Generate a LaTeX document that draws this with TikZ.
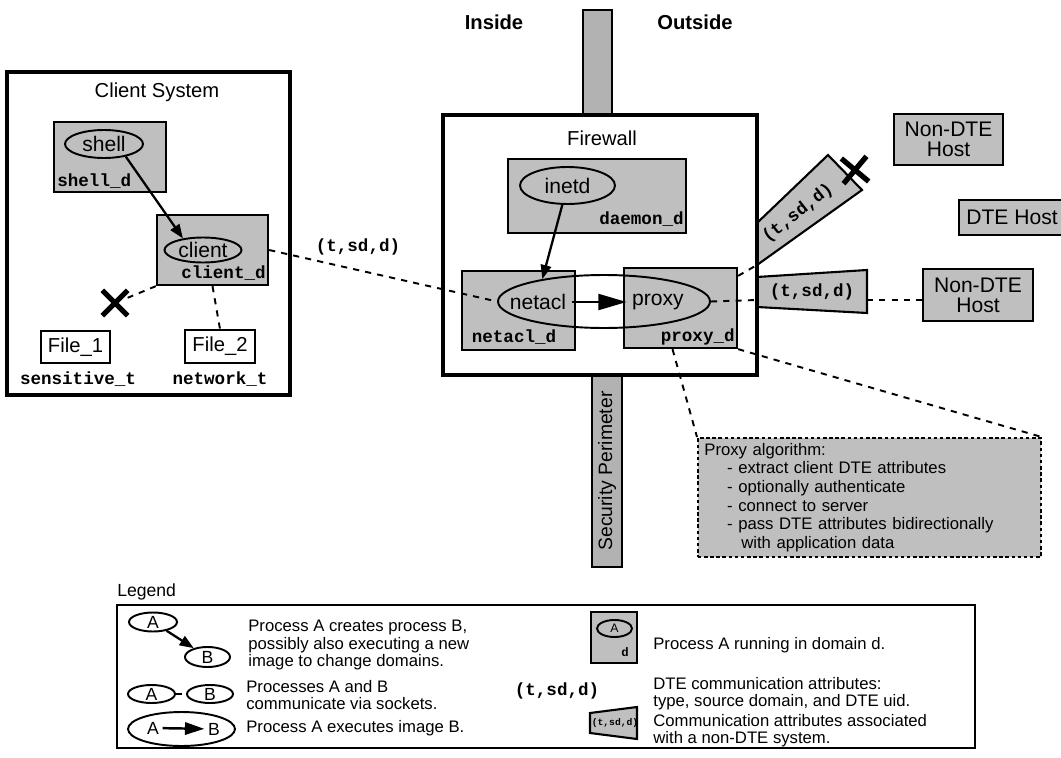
\documentclass[tikz,border=0pt]{standalone}
\usepackage{fontspec}
\setmainfont{Liberation Sans}
\setmonofont{Liberation Mono}
\usetikzlibrary{arrows.meta,shapes.geometric,shapes.misc,fit,calc}

\begin{document}
\begin{tikzpicture}[x=0.02cm,y=-0.02cm,
  dom/.style={draw,line width=1.3pt,fill=gray!50,inner sep=0pt},
  proc/.style={draw,ellipse,line width=1.1pt,inner sep=0pt,font=\fontsize{12}{12}\selectfont},
  dname/.style={inner sep=0pt,font=\ttfamily\bfseries\fontsize{10}{10}\selectfont},
  frame/.style={draw,line width=2.4pt,inner sep=0pt},
  bar/.style={draw,line width=1.2pt,fill=gray!60,inner sep=0pt},
  title/.style={font=\fontsize{11.5}{12}\selectfont},
  filebox/.style={draw,line width=1.1pt,inner sep=0pt,font=\fontsize{11.5}{12}\selectfont},
  host/.style={draw,line width=1.2pt,fill=gray!50,align=center,inner sep=0pt,
    font=\fontsize{12}{11.5}\selectfont},
  wedge/.style={draw,line width=1.2pt,fill=gray!50},
  comm/.style={line width=1.1pt,dash pattern=on 3.5pt off 3.5pt},
  creates/.style={line width=1.3pt,-{Triangle[length=8pt,width=6pt]}},
  execs/.style={line width=1.4pt,-{Triangle[length=16pt,width=9pt]}},
  nope/.style={draw,cross out,line width=3pt,minimum size=0.4cm,inner sep=0pt},
  algobox/.style={draw,line width=1pt,dash pattern=on 2pt off 1.5pt,fill=gray!50,
    inner sep=3pt,align=left,font=\fontsize{9.5}{10.6}\selectfont},
  legtext/.style={anchor=west,align=left,inner sep=0pt,font=\fontsize{9.5}{9.7}\selectfont},
  legproc/.style={draw,ellipse,line width=1.1pt,inner sep=0pt,font=\fontsize{10}{10}\selectfont},
]
\useasboundingbox (0,0) rectangle (1061,757);

% inside / outside
\node[font=\bfseries\fontsize{11.5}{12}\selectfont] (inside) at (494,22) {Inside};
\node[font=\bfseries\fontsize{11.5}{12}\selectfont] (outside) at (695,22) {Outside};

% security perimeter
\node[bar,fit={(583,10) (612,115)}] (bartop) {};
\node[bar,fit={(592,375) (622,567)}] (barbot) {};
\node[rotate=90,font=\fontsize{11}{11}\selectfont] (perim) at (barbot.center) {Security Perimeter};

% client system
\node[frame,fit={(7,72) (290,395)}] (clientsys) {};
\node[title] (clienttitle) at (157,92) {Client System};
\node[dom,fit={(54,122) (166,192)}] (shelld) {};
\node[proc,minimum width=1.56cm,minimum height=0.56cm] (shell) at (104,144) {shell};
\node[dname,anchor=west] (shelldname) at (57,181) {shell\_d};
\node[dom,fit={(157,215) (268,285)}] (clientd) {};
\node[proc,minimum width=1.54cm,minimum height=0.5cm] (client) at (203,250) {client};
\node[dname,anchor=east] (clientdname) at (266,273) {client\_d};
\draw[creates] (shell.-30) -- (client.150);

\node[nope] (cut1) at (115,303) {};
\node[filebox,minimum width=1.38cm,minimum height=0.64cm] (file1) at (75.5,347) {File\_1};
\node[dname] (file1type) at (78,379) {sensitive\_t};
\node[filebox,minimum width=1.4cm,minimum height=0.66cm] (file2) at (220,346.5) {File\_2};
\node[dname] (file2type) at (220,379) {network\_t};
\draw[comm] (clientd.south west) -- (cut1);
\draw[comm] (clientd.south) -- (file2.north);

% non-DTE wedges
\coordinate (uw1) at (757,223);
\coordinate (uw2) at (828,155);
\coordinate (uw3) at (862,190);
\coordinate (uw4) at (757,265);
\draw[wedge] (uw1) -- (uw2) -- (uw3) -- (uw4) -- cycle;
\node[dname,rotate=38] (uwattrs) at (798,213) {(t,sd,d)};
\node[nope,rotate=5] (cut2) at (855,170) {};
\coordinate (hw1) at (757,277);
\coordinate (hw2) at (867,270);
\coordinate (hw3) at (867,313);
\coordinate (hw4) at (757,307);
\draw[wedge] (hw1) -- (hw2) -- (hw3) -- (hw4) -- cycle;
\node[dname] (hwattrs) at (812,292) {(t,sd,d)};

% firewall
\node[frame,fit={(443,115) (757,375)}] (firewall) {};
\node[title] (fwtitle) at (602,138) {Firewall};
\node[dom,fit={(508,159) (686,233)}] (daemond) {};
\node[proc,minimum width=1.9cm,minimum height=0.74cm] (inetd) at (567.5,185.5) {inetd};
\node[dname,anchor=east] (daemondname) at (684,219) {daemon\_d};
\node[dom,fit={(462,271) (575,350)}] (netacld) {};
\node[dom,fit={(624,268) (737,348)}] (proxyd) {};
\node[dname] (netacldname) at (514,337) {netacl\_d};
\node[dname,anchor=east] (proxydname) at (735,337) {proxy\_d};
\node[draw,ellipse,line width=1.1pt,minimum width=4.24cm,minimum height=1.06cm,inner sep=0pt] (exec) at (604,301.5) {};
\node[inner sep=3pt,font=\fontsize{12}{12}\selectfont] (netacl) at (538,302) {netacl};
\node[inner sep=3pt,font=\fontsize{12}{12}\selectfont] (proxy) at (658,302) {proxy};
\draw[execs] (netacl) -- (proxy);
\draw[creates] (inetd) -- (exec.160);

% hosts
\node[host,minimum width=2.18cm,minimum height=1.02cm] (nondte1) at (948.5,139.5) {Non-DTE\\Host};
\node[host,minimum width=2.12cm,minimum height=0.7cm] (dtehost) at (1012,217.5) {DTE Host};
\node[host,minimum width=2.2cm,minimum height=1.04cm] (nondte2) at (978,295) {Non-DTE\\Host};

% communication
\node[dname] (attrs) at (358,247) {(t,sd,d)};
\draw[comm] (clientd.east) -- (exec.west);
\coordinate (hin) at (757,300);
\coordinate (hout) at (867,300);
\draw[comm] (exec.east) -- (hin);
\draw[comm] (hout) -- (hout -| nondte2.west);
\draw[comm] ($(proxyd.north east)+(0,9)$) -- (uw4);

% proxy algorithm
\node[algobox,anchor=north west,minimum width=6.86cm,minimum height=2.3cm,text width=6.6cm] (algo) at (697,437)
  {Proxy algorithm:\\
   \hspace*{13pt}- extract client DTE attributes\\
   \hspace*{13pt}- optionally authenticate\\
   \hspace*{13pt}- connect to server\\
   \hspace*{13pt}- pass DTE attributes bidirectionally\\
   \hspace*{21pt}with application data};
\draw[comm] (proxyd.south east) -- (algo.north east);
\draw[comm] ($(proxyd.south)+(-8,0)$) -- (algo.north west);

% legend
\node[anchor=west,inner sep=0pt,font=\fontsize{10}{10}\selectfont] (legtitle) at (117,592) {Legend};
\node[draw,line width=1.5pt,inner sep=0pt,fit={(117,605) (975,748)}] (legend) {};

\node[legproc,minimum width=0.96cm,minimum height=0.38cm] (la1) at (153,622) {A};
\node[legproc,minimum width=0.9cm,minimum height=0.4cm] (lb1) at (207.5,657) {B};
\draw[creates] (la1) -- (lb1);
\node[legtext] (lt1) at (248,645) {Process A creates process B,\\possibly also executing a new\\image to change domains.};

\node[legproc,minimum width=0.94cm,minimum height=0.36cm] (la2) at (151.5,694) {A};
\node[legproc,minimum width=0.92cm,minimum height=0.36cm] (lb2) at (210,694) {B};
\draw[comm] (la2) -- (lb2);
\node[legtext] (lt2) at (246,695) {Processes A and B\\communicate via sockets.};

\node[legproc,minimum width=2.14cm,minimum height=0.68cm] (lexec) at (181.5,729) {};
\node[inner sep=2pt,font=\fontsize{10}{10}\selectfont] (la3) at (153,728) {A};
\node[inner sep=2pt,font=\fontsize{10}{10}\selectfont] (lb3) at (214,729) {B};
\draw[line width=1.4pt,-{Triangle[length=11pt,width=7pt]}] (la3) -- (lb3);
\node[legtext] (lt3) at (246,728) {Process A executes image B.};

\node[dom,minimum width=0.92cm,minimum height=1.02cm] (ldom) at (614,637.5) {};
\node[legproc,minimum width=0.7cm,minimum height=0.34cm,font=\fontsize{7}{7}\selectfont] (lpa) at (614.5,628.5) {A};
\node[dname,font=\ttfamily\bfseries\fontsize{7}{7}\selectfont] (ld) at (625,652) {d};
\node[legtext] (lt4) at (653,645) {Process A running in domain d.};

\node[dname] (lattrs) at (557,691) {(t,sd,d)};
\node[legtext] (lt5) at (653,694) {DTE communication attributes:\\type, source domain, and DTE uid.};

\coordinate (lw1) at (590,713);
\coordinate (lw2) at (637,707);
\coordinate (lw3) at (637,739);
\coordinate (lw4) at (590,733);
\draw[wedge] (lw1) -- (lw2) -- (lw3) -- (lw4) -- cycle;
\node[dname,font=\ttfamily\bfseries\fontsize{5.5}{5.5}\selectfont] (lwattrs) at (615,723) {(t,sd,d)};
\node[legtext] (lt6) at (653,731) {Communication attributes associated\\with a non-DTE system.};
\end{tikzpicture}
\end{document}
